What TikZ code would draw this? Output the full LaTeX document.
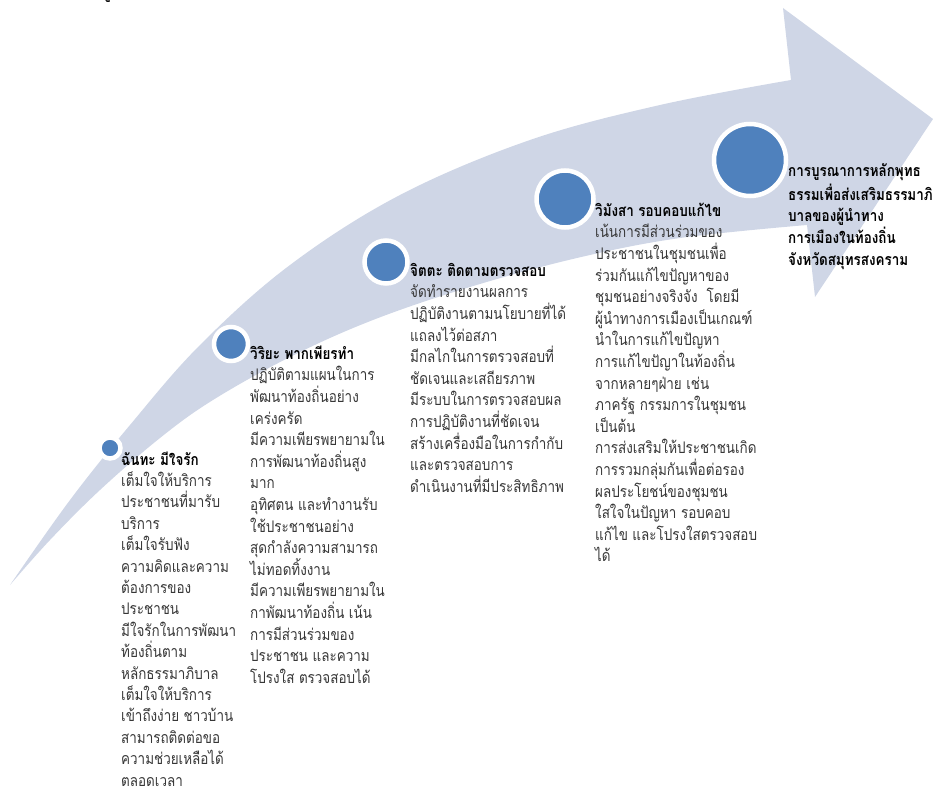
\documentclass[tikz,border=0pt]{standalone}
\usepackage{fontspec}
\newfontfamily\thaifont[Script=Thai,FakeStretch=0.84]{Loma}
\definecolor{bandc}{RGB}{207,214,230}
\definecolor{dotc}{RGB}{79,129,189}
\definecolor{txtc}{RGB}{55,55,55}
\begin{document}
\begin{tikzpicture}[x=1pt,y=-1pt,
  dot/.style={circle,fill=dotc,draw=white,line width=4.5pt,inner sep=0pt},
  body/.style={anchor=north west,inner sep=0pt,align=left,text=txtc,
    font=\thaifont\fontsize{16}{21.6}\selectfont},
  ttl/.style={anchor=north west,inner sep=0pt,align=left,text=black,
    font=\thaifont\bfseries\fontsize{16}{21.6}\selectfont}]
\useasboundingbox (0,0) rectangle (933,794);
% curved arrow band
\fill[bandc] plot[smooth,tension=0.6] coordinates {(10,585) (70,500) (130,425) (200,345) (290,265) (400,195) (530,140) (660,105) (791,80)}
  -- (783,8) -- (933,119) -- (815,297) -- (807,225)
  -- plot[smooth,tension=0.6] coordinates {(807,225) (680,238) (577,258) (470,287) (373,320) (290,357) (213,400) (160,438) (100,490) (50,540) (10,585)}
  -- cycle;
% clipped glyph at top
\node[anchor=base west,inner sep=0pt,font=\thaifont\bfseries\fontsize{16}{18}\selectfont] (topglyph) at (102,-1) {ดู};
% dots
\node[dot,minimum size=21pt] (c1) at (110,448) {};
\node[dot,minimum size=34pt] (c2) at (231,344) {};
\node[dot,minimum size=43pt] (c3) at (386,262) {};
\node[dot,minimum size=57pt] (c4) at (565,199) {};
\node[dot,minimum size=72pt] (c5) at (750,160) {};
% texts
\node[body,font=\thaifont\fontsize{16}{21.4}\selectfont] (t1) at (121,450) {\strut{\bfseries\color{black}ฉันทะ มีใจรัก}\\
เต็มใจให้บริการ\\
ประชาชนที่มารับ\\
บริการ\\
เต็มใจรับฟัง\\
ความคิดและความ\\
ต้องการของ\\
ประชาชน\\
มีใจรักในการพัฒนา\\
ท้องถิ่นตาม\\
หลักธรรมาภิบาล\\
เต็มใจให้บริการ\\
เข้าถึงง่าย ชาวบ้าน\\
สามารถติดต่อขอ\\
ความช่วยเหลือได้\\
ตลอดเวลา};
\node[body] (t2) at (250,344) {\strut{\bfseries\color{black}วิริยะ พากเพียรทำ}\\
ปฏิบัติตามแผนในการ\\
พัฒนาท้องถิ่นอย่าง\\
เคร่งครัด\\
มีความเพียรพยายามใน\\
การพัฒนาท้องถิ่นสูง\\
มาก\\
อุทิศตน และทำงานรับ\\
ใช้ประชาชนอย่าง\\
สุดกำลังความสามารถ\\
ไม่ทอดทิ้งงาน\\
มีความเพียรพยายามใน\\
กาพัฒนาท้องถิ่น เน้น\\
การมีส่วนร่วมของ\\
ประชาชน และความ\\
โปรงใส ตรวจสอบได้};
\node[body] (t3) at (410,261) {\strut{\bfseries\color{black}จิตตะ ติดตามตรวจสอบ}\\
จัดทำรายงานผลการ\\
ปฏิบัติงานตามนโยบายที่ได้\\
แถลงไว้ต่อสภา\\
มีกลไกในการตรวจสอบที่\\
ชัดเจนและเสถียรภาพ\\
มีระบบในการตรวจสอบผล\\
การปฏิบัติงานที่ชัดเจน\\
สร้างเครื่องมือในการกำกับ\\
และตรวจสอบการ\\
ดำเนินงานที่มีประสิทธิภาพ};
\node[body] (t4) at (595,201) {\strut{\bfseries\color{black}วิมังสา รอบคอบแก้ไข}\\
เน้นการมีส่วนร่วมของ\\
ประชาชนในชุมชนเพื่อ\\
ร่วมกันแก้ไขปัญหาของ\\
ชุมชนอย่างจริงจัง\ \ โดยมี\\
ผู้นำทางการเมืองเป็นเกณฑ์\\
นำในการแก้ไขปัญหา\\
การแก้ไขปัญาในท้องถิ่น\\
จากหลายๆฝ่าย เช่น\\
ภาครัฐ กรรมการในชุมชน\\
เป็นต้น\\
การส่งเสริมให้ประชาชนเกิด\\
การรวมกลุ่มกันเพื่อต่อรอง\\
ผลประโยชน์ของชุมชน\\
ใสใจในปัญหา รอบคอบ\\
แก้ไข และโปรงใสตรวจสอบ\\
ได้};
\node[ttl] (t5) at (788,161) {\strut การบูรณาการหลักพุทธ\\
ธรรมเพื่อส่งเสริมธรรมาภิ\\
บาลของผู้นำทาง\\
การเมืองในท้องถิ่น\\
จังหวัดสมุทรสงคราม};
\end{tikzpicture}
\end{document}
